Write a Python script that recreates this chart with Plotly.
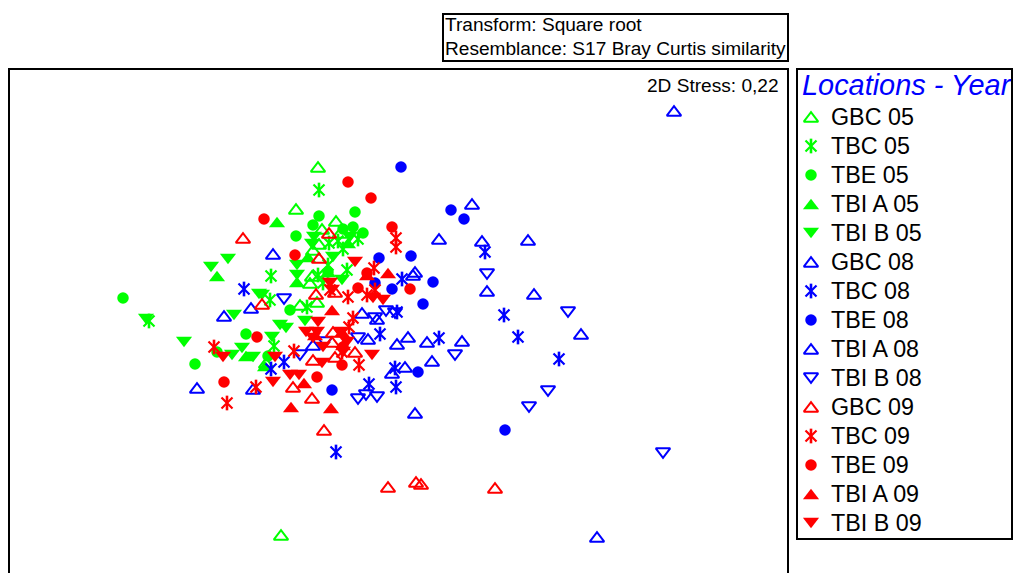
import plotly.graph_objects as go

GREEN, BLUE, RED = "#00ff00", "#0000ff", "#ff0000"
FONT = "Liberation Sans"

gbc05 = [(318,167),(296,209),(281,535),(336,221),(322,229),(319,244),(312,276),(310,283),(300,305),(317,302),(266,363),(340,233),(313,250)]
tbc05 = [(319,190),(271,276),(329,243),(338,241),(343,249),(358,239),(328,265),(347,270),(318,275),(149,321),(270,300),(307,307),(323,283),(274,346)]
tbe05 = [(123,298),(195,364),(246,334),(319,216),(355,212),(313,225),(296,236),(343,229),(353,227),(363,233),(217,352),(268,356),(290,310),(328,272)]
tbia05 = [(277,222),(308,257),(328,272),(348,243),(217,276),(297,282),(246,356),(265,366)]
tbib05 = [(211,267),(228,259),(184,342),(146,319),(234,315),(242,348),(232,355),(253,357),(259,294),(305,321),(286,328),(272,337),(262,295),(314,237),(312,244),(297,265),(297,275),(333,257),(350,237),(342,280),(280,325)]

gbc08 = [(674,111),(472,204),(439,239),(528,240),(482,241),(534,294),(487,291),(581,334),(597,537),(197,388),(273,254),(224,316),(251,308),(253,389),(415,413)]
tbc08 = [(244,289),(271,369),(284,362),(369,384),(396,387),(395,368),(397,312),(380,334),(402,279),(439,338),(485,252),(504,315),(518,337),(559,359),(336,452)]
tbe08 = [(401,167),(451,210),(464,219),(379,258),(411,256),(392,289),(433,282),(423,304),(418,372),(505,430),(332,390),(375,283)]
tbia08 = [(362,313),(377,319),(368,339),(397,344),(408,337),(427,342),(392,373),(405,367),(313,345),(415,272),(413,275),(462,341),(432,361)]
tbib08 = [(487,274),(568,312),(455,355),(548,391),(529,407),(663,453),(284,299),(375,318),(386,311),(358,338),(300,355),(325,342),(358,399),(366,395),(377,397),(395,313)]

gbc09 = [(243,238),(329,233),(319,258),(316,294),(262,304),(388,487),(416,482),(421,484),(495,488),(324,430),(312,398),(333,332),(355,352),(313,360),(335,357),(293,387),(332,342),(335,292)]
tbc09 = [(396,238),(396,247),(374,268),(348,297),(367,295),(353,318),(349,327),(294,351),(359,365),(342,352),(214,347),(256,387),(227,403),(330,290),(375,290)]
tbe09 = [(264,219),(348,182),(371,198),(392,227),(295,255),(410,289),(257,337),(224,382),(317,377),(342,365),(343,347),(358,288),(367,273)]
tbia09 = [(388,273),(367,275),(332,310),(304,383),(291,407),(331,408),(315,335),(342,332),(343,345)]
tbib09 = [(355,262),(383,300),(373,298),(330,283),(332,290),(318,322),(306,332),(317,332),(323,347),(322,363),(340,332),(347,342),(343,352),(372,355),(275,357),(273,382),(290,375),(299,375),(223,357),(313,338)]

legend_labels = ["GBC 05","TBC 05","TBE 05","TBI A 05","TBI B 05","GBC 08","TBC 08","TBE 08","TBI A 08","TBI B 08","GBC 09","TBC 09","TBE 09","TBI A 09","TBI B 09"]
series_points = [gbc05,tbc05,tbe05,tbia05,tbib05,gbc08,tbc08,tbe08,tbia08,tbib08,gbc09,tbc09,tbe09,tbia09,tbib09]
series_colors = [GREEN]*5 + [BLUE]*5 + [RED]*5
kinds = ["up-open","ast","circle","up","down","up-open","ast","circle","up-open","down-open","up-open","ast","circle","up","down"]

# Each kind is one or more stacked Plotly symbols: (symbol, size, line width, y anchor shift)
LAYERS = {
    "up-open": [("triangle-up-open", 12.5, 2, 1.5)],
    "down-open": [("triangle-down-open", 12.5, 2, -1.5)],
    "up": [("triangle-up", 14, 0, 1.7)],
    "down": [("triangle-down", 14, 0, -1.7)],
    "circle": [("circle", 11.5, 0, 0)],
    "ast": [("line-ns-open", 10.5, 2.6, 0), ("x-thin-open", 11, 2.2, 0)],
}

fig = go.Figure()

def draw(xs, ys, kind, col, name, hover):
    for sym, size, width, shift in LAYERS[kind]:
        fig.add_trace(go.Scatter(
            x=xs, y=[v + shift for v in ys], mode="markers", name=name, showlegend=False,
            hoverinfo=hover,
            marker=dict(symbol=sym, size=size, color=col, line=dict(color=col, width=width)),
        ))

for name, pts, col, kind in zip(legend_labels, series_points, series_colors, kinds):
    draw([p[0] for p in pts], [p[1] for p in pts], kind, col, name, "name")

LEG_X, TXT_X, LEG_Y0, LEG_DY = 811, 830.5, 117, 29
for i, (name, col, kind) in enumerate(zip(legend_labels, series_colors, kinds)):
    ky = LEG_Y0 + LEG_DY * i
    draw([LEG_X], [ky], kind, col, name, "skip")
    fig.add_annotation(x=TXT_X, y=ky + 0.2, text=name, showarrow=False, xanchor="left", yanchor="middle",
                       xshift=-2, font=dict(family=FONT, size=23.3, color="black"))

def box(x0, y0, x1, y1):
    fig.add_shape(type="rect", x0=x0, y0=y0, x1=x1, y1=y1, line=dict(color="black", width=2), layer="above")

box(9, 69, 788, 600)
box(797, 69, 1012, 539)
box(443, 14, 788, 61)

fig.add_annotation(x=445, y=24.5, text="Transform: Square root", showarrow=False, xanchor="left", yanchor="middle", xshift=-2,
                   font=dict(family=FONT, size=19.1, color="black"))
fig.add_annotation(x=445, y=48, text="Resemblance: S17 Bray Curtis similarity", showarrow=False, xanchor="left", yanchor="middle", xshift=-2,
                   font=dict(family=FONT, size=19.1, color="black"))
fig.add_annotation(x=779, y=85.3, text="2D Stress: 0,22", showarrow=False, xanchor="right", yanchor="middle", xshift=2,
                   font=dict(family=FONT, size=19.1, color="black"))
fig.add_annotation(x=802, y=85, text="<i>Locations - Year</i>", showarrow=False, xanchor="left", yanchor="middle", xshift=-2,
                   font=dict(family=FONT, size=28.9, color="#0000ff"))

fig.update_xaxes(range=[0, 1013], visible=False, fixedrange=True)
fig.update_yaxes(range=[573, 0], visible=False, fixedrange=True)
fig.update_layout(width=1013, height=573, margin=dict(l=0, r=0, t=0, b=0), paper_bgcolor="white", plot_bgcolor="white",
                  showlegend=False)
fig.write_html("out.html", config=dict(displayModeBar=False),
               post_script="document.body.style.margin='0';document.documentElement.style.overflow='hidden';")
